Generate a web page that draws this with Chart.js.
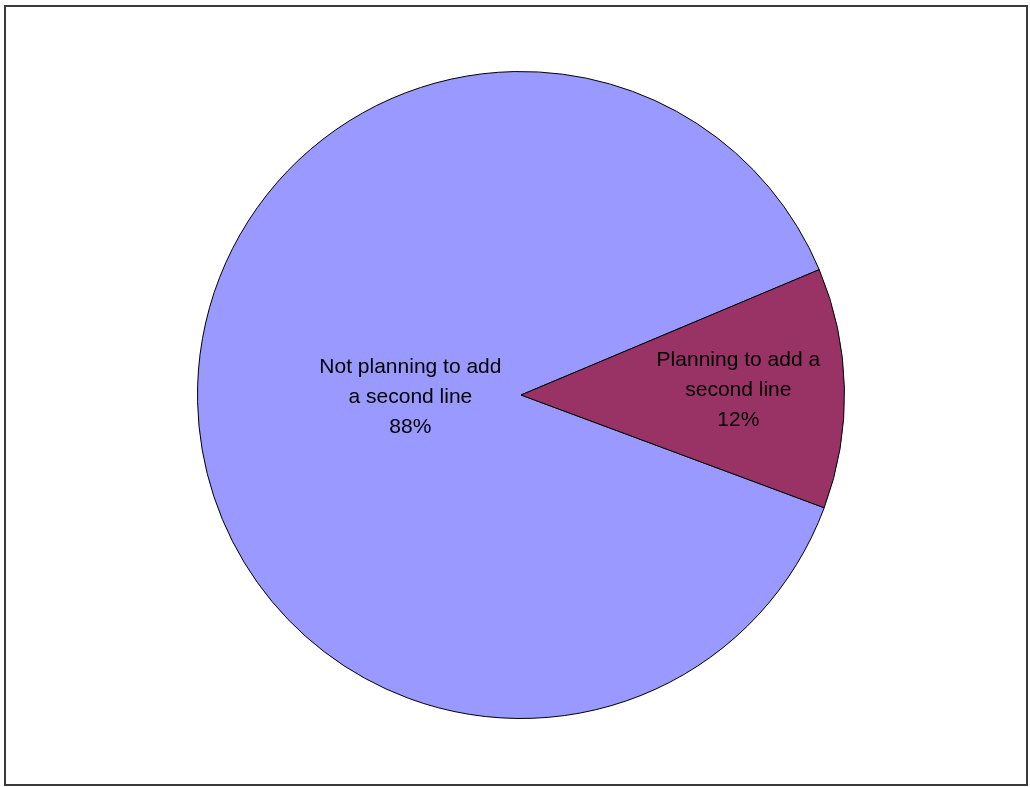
<!DOCTYPE html>
<html>
<head>
<meta charset="utf-8">
<script src="https://cdn.jsdelivr.net/npm/chart.js@4/dist/chart.umd.min.js"></script>
<style>
  html, body { margin: 0; padding: 0; background: #ffffff; }
  #wrap { position: relative; width: 1030px; height: 787px; }
</style>
</head>
<body>
<div id="wrap"><canvas id="c"></canvas></div>
<script>
// ---- data ----
const categories = ["Not planning to add a second line", "Planning to add a second line"];
const labelLines = [["Not planning to add", "a second line"], ["Planning to add a", "second line"]];
const values = [88, 12];
const colors = ["#9999FF", "#993366"];

// ---- label plugin ----
const labelPlugin = {
  id: "sliceLabels",
  afterDatasetsDraw(chart, args, opts) {
    const ctx = chart.ctx;
    const meta = chart.getDatasetMeta(0);
    const total = values.reduce((a, b) => a + b, 0);
    ctx.save();
    ctx.font = opts.font;
    ctx.fillStyle = "#000000";
    ctx.textAlign = "center";
    ctx.textBaseline = "middle";
    meta.data.forEach((arc, i) => {
      const p = arc.getProps(["x", "y", "startAngle", "endAngle", "outerRadius"], true);
      const mid = (p.startAngle + p.endAngle) / 2;
      const r = p.outerRadius * opts.radiusFraction[i];
      const cx = p.x + Math.cos(mid) * r;
      const cy = p.y + Math.sin(mid) * r;
      const lines = labelLines[i].concat([Math.round(values[i] / total * 100) + "%"]);
      const lh = opts.lineHeight;
      const y0 = cy - (lines.length - 1) * lh / 2;
      lines.forEach((t, k) => ctx.fillText(t, cx, y0 + k * lh));
    });
    ctx.restore();
  }
};

// ---- frame plugin ----
const framePlugin = {
  id: "frame",
  afterDraw(chart) {
    const ctx = chart.ctx;
    ctx.save();
    ctx.strokeStyle = "#3a3a3a";
    ctx.lineWidth = 2;
    ctx.strokeRect(5, 6, 1022, 779);
    ctx.restore();
  }
};

new Chart(document.getElementById("c"), {
  type: "pie",
  data: {
    labels: categories,
    datasets: [{
      data: values,
      backgroundColor: colors,
      borderColor: "#000000",
      borderWidth: 1
    }]
  },
  options: {
    responsive: true,
    maintainAspectRatio: false,
    animation: false,
    rotation: 110.4,
    layout: { padding: { left: 197, right: 185, top: 71, bottom: 68 } },
    plugins: {
      legend: { display: false },
      tooltip: { enabled: false },
      title: { display: false },
      sliceLabels: {
        font: "21px 'Liberation Sans', Arial, sans-serif",
        lineHeight: 30,
        radiusFraction: [0.342, 0.672]
      }
    }
  },
  plugins: [labelPlugin, framePlugin]
});
</script>
</body>
</html>
